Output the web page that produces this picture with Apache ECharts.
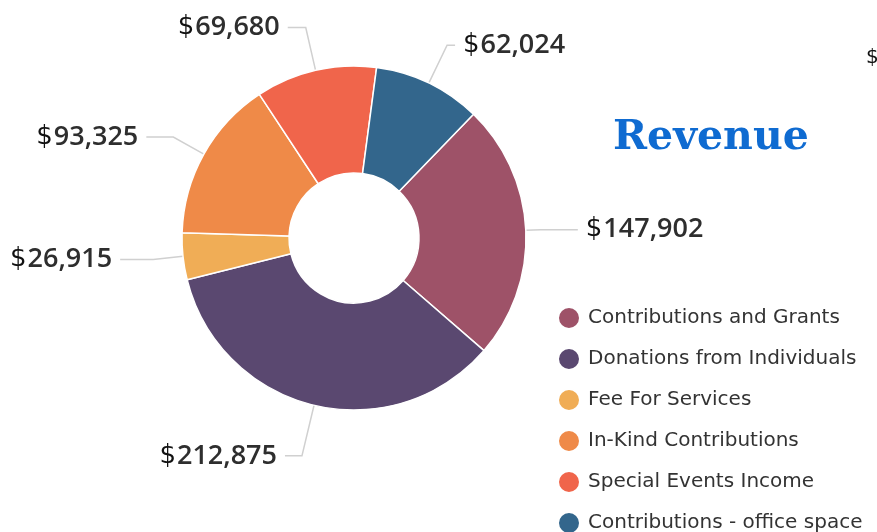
<!DOCTYPE html>
<html>
<head>
<meta charset="utf-8">
<script src="https://cdn.jsdelivr.net/npm/echarts@6/dist/echarts.min.js"></script>
<style>
  html, body { margin: 0; padding: 0; background: #fff; }
  #chart { width: 877px; height: 532px; }
</style>
</head>
<body>
<div id="chart"></div>
<script>
const categories = [
  'Contributions and Grants',
  'Donations from Individuals',
  'Fee For Services',
  'In-Kind Contributions',
  'Special Events Income',
  'Contributions - office space'
];
const values = [147902, 212875, 26915, 93325, 69680, 62024];
const colors = ['#9e5268', '#5a4870', '#f0ad56', '#ef8a48', '#f0654b', '#33668c'];
// leader line lengths per slice: [radial, horizontal]
const leaderLens = [[15, 37], [52, 17], [30, 33], [35, 27], [44, 18], [42, 8]];

const chart = echarts.init(document.getElementById('chart'));

const option = {
  animation: false,
  color: colors,
  title: {
    text: 'Revenue',
    left: 608,
    top: 113,
    textStyle: {
      fontFamily: 'DejaVu Serif',
      fontWeight: 'bold',
      fontSize: 41,
      color: '#0f6bd1'
    }
  },
  legend: {
    orient: 'vertical',
    left: 557,
    top: 306,
    height: 300,
    padding: 0,
    icon: 'circle',
    itemWidth: 22,
    itemHeight: 22,
    itemGap: 17,
    data: categories,
    textStyle: {
      fontFamily: 'DejaVu Sans',
      fontSize: 20,
      lineHeight: 22,
      color: '#333',
      padding: [0, 0, 0, 3]
    }
  },
  graphic: [{
    type: 'text',
    left: 866,
    top: 48,
    style: { text: '$', font: '20px DejaVu Sans', fill: '#111' }
  }],
  series: [{
    type: 'pie',
    center: [354, 238],
    radius: [65, 172],
    startAngle: 46,
    clockwise: true,
    avoidLabelOverlap: false,
    itemStyle: { borderColor: '#fff', borderWidth: 1.5 },
    label: {
      show: true,
      position: 'outside',
      distanceToLabelLine: 8,
      formatter: p => '{d|$}{v|' + p.value.toLocaleString('en-US') + '}',
      rich: {
        d: { fontFamily: 'DejaVu Sans', fontSize: 26, color: '#111', padding: [0, 1, 0, 0] },
        v: { fontFamily: 'Open Sans', fontSize: 27, fontWeight: 600, color: '#2e2e2e' }
      }
    },
    labelLine: {
      show: true,
      lineStyle: { color: '#d0d0d0', width: 1.5 }
    },
    data: categories.map((c, i) => ({
      name: c,
      value: values[i],
      labelLine: { length: leaderLens[i][0], length2: leaderLens[i][1] }
    }))
  }]
};

chart.setOption(option);
</script>
</body>
</html>
